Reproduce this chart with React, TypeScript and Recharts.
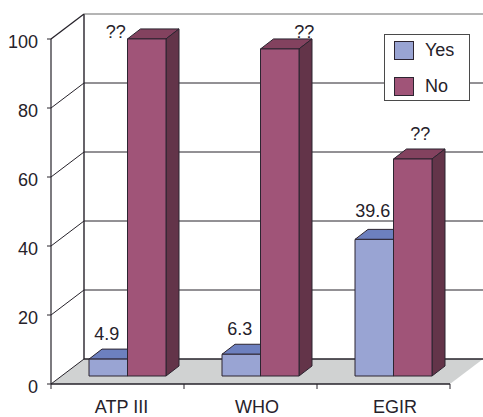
import * as React from "react";
import { BarChart, Bar, XAxis, YAxis, CartesianGrid, Legend, LabelList } from "recharts";

const categories = ["ATP III", "WHO", "EGIR"];
const yesValues = [4.9, 6.3, 39.6];
const noValues = [97.7, 94.8, 62.9];
const noLabels = ["??", "??", "??"];
const yTicks = [0, 20, 40, 60, 80, 100];

// hand placed text in the original, nudged from the bar / band centre
const noLabelShift = [-31, 24.5, 7.5];
const noLabelRaise = [1, 11, 19];
const yesLabelRaise = [19, 19, 22];
const catLabelShift = [4, 6.5, 11.5];

const data = categories.map((c, i) => ({
  name: c,
  Yes: yesValues[i],
  No: noValues[i],
  noLabel: noLabels[i],
}));

const FONT = "'Liberation Sans', Arial, sans-serif";
const INK = "#26222a";
const WALL_DX = 33;
const WALL_DY = 25;
const BAR_DX = 10;
const BAR_DY = 8;
const SIDE_DX = 13;
const SIDE_DY = 10;
const BAND = 133;

const yesColors = { front: "#99a4d3", top: "#6d80bf", side: "#57659a" };
const noColors = { front: "#a05478", top: "#83425f", side: "#633449" };

function makeBar(colors: { front: string; top: string; side: string }) {
  return function Bar3D(props: any) {
    const x = props.x + BAR_DX;
    const y = props.y - BAR_DY;
    const w = props.width;
    const h = props.height;
    const edge = { stroke: "#2c2430", strokeWidth: 1, strokeLinejoin: "round" as const };
    return (
      <g>
        <polygon
          points={`${x},${y} ${x + SIDE_DX},${y - SIDE_DY} ${x + w + SIDE_DX},${y - SIDE_DY} ${x + w},${y}`}
          fill={colors.top}
          {...edge}
        />
        <polygon
          points={`${x + w},${y} ${x + w + SIDE_DX},${y - SIDE_DY} ${x + w + SIDE_DX},${y + h - SIDE_DY} ${x + w},${y + h}`}
          fill={colors.side}
          {...edge}
        />
        <rect x={x} y={y} width={w} height={h} fill={colors.front} {...edge} />
      </g>
    );
  };
}

function gridLine(props: any) {
  const { x1, x2, y1, index } = props;
  const bx = x1 + WALL_DX;
  const by = y1 - WALL_DY;
  const isFloor = Math.abs(y1 - 384) < 1;
  const isTop = Math.abs(y1 - 39) < 1;
  return (
    <g key={`wall-${index}`}>
      {isFloor && (
        <polygon points={`${x1},${y1} ${bx},${by} ${x2 + WALL_DX},${by} ${x2},${y1}`} fill="#d0d2d2" />
      )}
      {isTop && <line x1={bx} y1={by} x2={bx} y2={by + 345} stroke={INK} strokeWidth={1.4} />}
      <line x1={x1} y1={y1} x2={bx} y2={by} stroke={INK} strokeWidth={isTop ? 1.3 : 1} />
      <line
        x1={bx}
        y1={by}
        x2={x2 + WALL_DX}
        y2={by}
        stroke={isTop ? "#6a6a6a" : INK}
        strokeWidth={isFloor ? 1.6 : 1}
      />
    </g>
  );
}

function YTick(props: any) {
  const { y, payload } = props;
  return (
    <text x={38} y={y + 8.5} textAnchor="end" fontFamily={FONT} fontSize={18} fill={INK}>
      {payload.value}
    </text>
  );
}

function XTick(props: any) {
  const { x, payload, index } = props;
  const left = x - BAND / 2;
  return (
    <g>
      <line x1={left} y1={384} x2={left} y2={389} stroke={INK} />
      {index === categories.length - 1 && (
        <line x1={left + BAND} y1={384} x2={left + BAND} y2={389} stroke={INK} />
      )}
      <text x={x + catLabelShift[index]} y={413} textAnchor="middle" fontFamily={FONT} fontSize={18} fill={INK}>
        {payload.value}
      </text>
    </g>
  );
}

function YesLabel(props: any) {
  const { x, y, width, value, index } = props;
  return (
    <text
      x={x + BAR_DX + width / 2 - 1.5}
      y={y - BAR_DY - yesLabelRaise[index]}
      textAnchor="middle"
      fontFamily={FONT}
      fontSize={18}
      fill={INK}
    >
      {value}
    </text>
  );
}

function NoLabel(props: any) {
  const { x, y, width, value, index } = props;
  return (
    <text
      x={x + BAR_DX + width / 2 + noLabelShift[index]}
      y={y - BAR_DY - noLabelRaise[index]}
      textAnchor="middle"
      fontFamily={FONT}
      fontSize={18}
      fill={INK}
    >
      {value}
    </text>
  );
}

function LegendBox(props: any) {
  const items = props.payload || [];
  return (
    <div
      style={{
        width: 86,
        height: 67,
        boxSizing: "border-box",
        background: "#fff",
        border: "1.5px solid #4a4a4a",
        fontFamily: FONT,
        fontSize: 18,
        color: INK,
        position: "relative",
      }}
    >
      {items.map((it: any, i: number) => (
        <div
          key={it.value}
          style={{ position: "absolute", left: 9, top: 6 + i * 36, display: "flex", alignItems: "center", height: 18 }}
        >
          <span
            style={{
              display: "inline-block",
              width: 18,
              height: 17,
              background: it.color,
              border: "1px solid #2c2430",
              marginRight: 11,
            }}
          />
          {it.value}
        </div>
      ))}
    </div>
  );
}

const YesShape = makeBar(yesColors);
const NoShape = makeBar(noColors);

export default function App() {
  return (
    <div style={{ position: "absolute", left: 0, top: 0, width: 483, height: 417, background: "#fff" }}>
      <BarChart
        width={483}
        height={417}
        data={data}
        margin={{ top: 39, right: 33, bottom: 0, left: 0 }}
        barGap={0}
        barSize={38.5}
        style={{ overflow: "visible" }}
      >
        <CartesianGrid vertical={false} horizontal={gridLine} syncWithTicks />
        <XAxis
          dataKey="name"
          height={33}
          interval={0}
          tick={XTick}
          tickLine={false}
          axisLine={{ stroke: INK, strokeWidth: 1.6 }}
        />
        <YAxis
          width={51}
          domain={[0, 100]}
          ticks={yTicks}
          interval={0}
          tick={YTick}
          tickSize={4}
          tickLine={{ stroke: INK }}
          axisLine={{ stroke: INK, strokeWidth: 1.2 }}
        />
        <Legend
          content={LegendBox}
          layout="horizontal"
          align="center"
          verticalAlign="middle"
          itemSorter={null}
          wrapperStyle={{ position: "absolute", left: 384, top: 34, width: 86, height: 67 }}
        />
        <Bar dataKey="Yes" fill={yesColors.front} shape={YesShape} isAnimationActive={false}>
          <LabelList dataKey="Yes" content={YesLabel} />
        </Bar>
        <Bar dataKey="No" fill={noColors.front} shape={NoShape} isAnimationActive={false}>
          <LabelList dataKey="noLabel" content={NoLabel} />
        </Bar>
      </BarChart>
    </div>
  );
}
